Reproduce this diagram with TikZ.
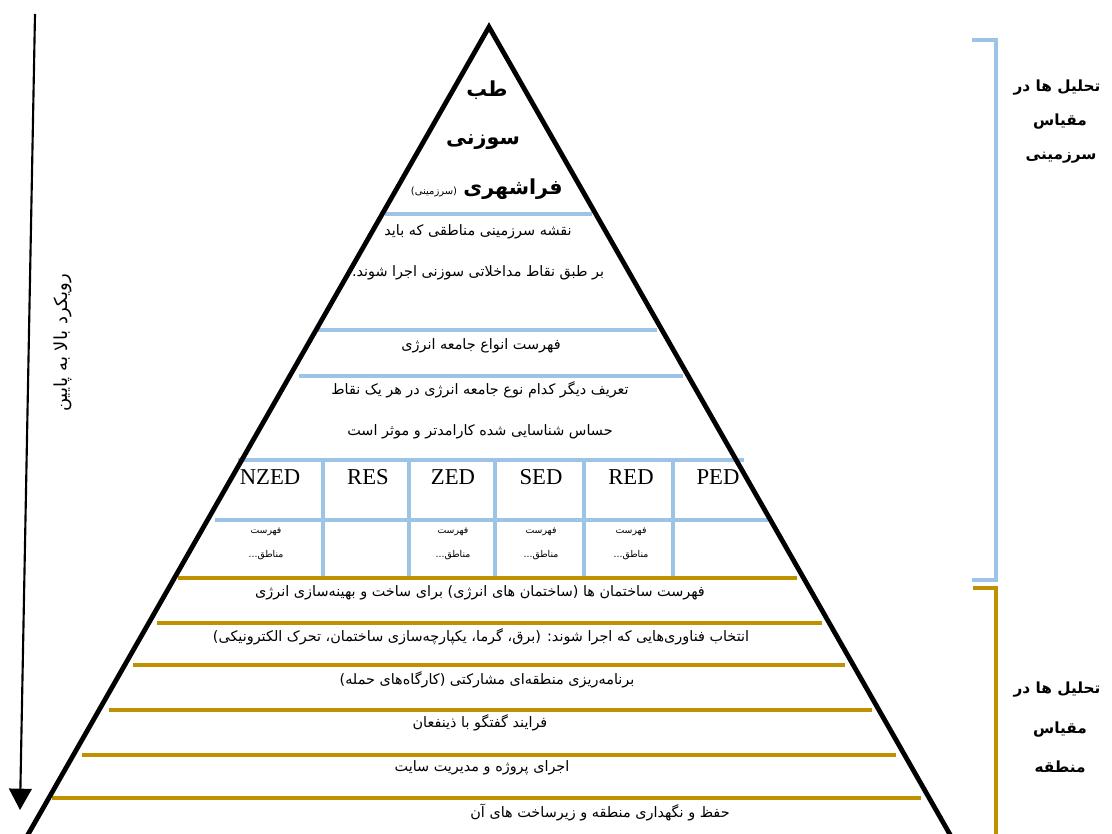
\documentclass[tikz,border=0pt]{standalone}
\usepackage{fontspec}
\setmainfont{Liberation Serif}
\newfontfamily\fa[Script=Arabic]{DejaVu Sans}
\TeXXeTstate=1
\usetikzlibrary{arrows.meta}
\definecolor{lb}{HTML}{9DC3E6}
\definecolor{gold}{HTML}{BF9000}
\newcommand\rtl[1]{\beginR #1\endR}
\tikzset{
  pyr/.style={line width=3.6pt, line cap=round, line join=miter},
  blue/.style={draw=lb, line width=3.6pt},
  gline/.style={draw=gold, line width=3.6pt},
  txt/.style={font=\fa\fontsize{10.8}{13}\selectfont, inner sep=0pt},
  small/.style={font=\fa\fontsize{7}{8}\selectfont, inner sep=0pt},
  paren/.style={font=\fa\fontsize{7.5}{9}\selectfont, inner sep=0pt},
  big/.style={font=\fa\bfseries\fontsize{15.5}{18}\selectfont, inner sep=0pt},
  lab/.style={font=\fa\bfseries\fontsize{11.5}{14}\selectfont, inner sep=0pt},
  head/.style={font=\fontsize{17}{20}\selectfont, inner sep=0pt},
  side/.style={font=\fa\fontsize{13.5}{16}\selectfont, inner sep=0pt},
}
\begin{document}
\begin{tikzpicture}[x=0.75pt,y=-0.75pt]
\useasboundingbox (0,0) rectangle (1112,834);
% blue lines
\draw[blue] (385,214) -- (592,214);
\draw[blue] (318,330) -- (657,330);
\draw[blue] (299,376) -- (683,376);
\draw[blue] (238,460) -- (744,460);
\draw[blue] (215,520) -- (768,520);
\foreach \x in {323,409,495,584,673} \draw[blue] (\x,460) -- (\x,578);
% gold lines
\draw[gline] (178,578) -- (797,578);
\draw[gline] (157,623) -- (822,623);
\draw[gline] (133,665) -- (845,665);
\draw[gline] (109,710) -- (872,710);
\draw[gline] (82,755) -- (896,755);
\draw[gline] (52,798) -- (921,798);
% pyramid
\coordinate (apex) at (489,27);
\coordinate (bl) at (26,838);
\coordinate (br) at (952,838);
\draw[pyr] (bl) -- (apex) -- (br);
% arrow
\coordinate (as) at (35,14);
\coordinate (ae) at (20,810);
\draw[line width=1.6pt, -{Triangle[width=17pt,length=16pt]}] (as) -- (ae);
\node[side, rotate=90] (approach) at (63,343) {\rtl{رویکرد بالا به پایین}};
% brackets
\draw[draw=lb, line width=3pt] (972,40) -- (996,40) -- (996,580) -- (972,580);
\draw[draw=gold, line width=3pt] (973,588) -- (996,588) -- (996,834);
\node[lab] (l1a) at (1057,88) {\rtl{تحلیل ها در}};
\node[lab] (l1b) at (1060,122) {\rtl{مقیاس}};
\node[lab] (l1c) at (1061,158) {\rtl{سرزمینی}};
\node[lab] (l2a) at (1057,690) {\rtl{تحلیل ها در}};
\node[lab] (l2b) at (1060,730) {\rtl{مقیاس}};
\node[lab] (l2c) at (1060,767) {\rtl{منطقه}};
% top titles
\node[big] (t1) at (487,90) {\rtl{طب}};
\node[big] (t2) at (483,142) {\rtl{سوزنی}};
\node[big] (t3) at (513,189) {\rtl{فراشهری}};
\node[paren] (t4) at (434,192) {\rtl{(سرزمینی)}};
% upper texts
\node[txt] (a1) at (478,232) {\rtl{نقشه سرزمینی مناطقی که باید}};
\node[txt] (a2) at (478,273) {\rtl{بر طبق نقاط مداخلاتی سوزنی اجرا شوند.}};
\node[txt] (a3) at (481,346) {\rtl{فهرست انواع جامعه انرژی}};
\node[txt] (a4) at (480,390) {\rtl{تعریف دیگر کدام نوع جامعه انرژی در هر یک نقاط}};
\node[txt] (a5) at (480,432) {\rtl{حساس شناسایی شده کارامدتر و موثر است}};
% table
\node[head] (h1) at (270,477) {NZED};
\node[head] (h2) at (368,477) {RES};
\node[head] (h3) at (453,477) {ZED};
\node[head] (h4) at (541,477) {SED};
\node[head] (h5) at (631,477) {RED};
\node[head] (h6) at (718,477) {PED};
\foreach \x/\n in {266/c1,453/c3,541/c4,631/c5} {
  \node[small] (\n a) at (\x,532) {\rtl{فهرست}};
  \node[small] (\n b) at (\x,555) {\rtl{مناطق...}};
}
% lower texts
\node[txt] (b1) at (480,593) {\rtl{فهرست ساختمان ها (ساختمان های انرژی) برای ساخت و بهینه‌سازی انرژی}};
\node[txt] (b2) at (481,637) {\rtl{انتخاب فناوری‌هایی که اجرا شوند: (برق، گرما، یکپارچه‌سازی ساختمان، تحرک الکترونیکی)}};
\node[txt] (b3) at (487,680) {\rtl{برنامه‌ریزی منطقه‌ای مشارکتی (کارگاه‌های حمله)}};
\node[txt] (b4) at (480,723) {\rtl{فرایند گفتگو با ذینفعان}};
\node[txt] (b5) at (482,768) {\rtl{اجرای پروژه و مدیریت سایت}};
\node[txt] (b6) at (600,812) {\rtl{حفظ و نگهداری منطقه و زیرساخت های آن}};
\end{tikzpicture}
\end{document}
